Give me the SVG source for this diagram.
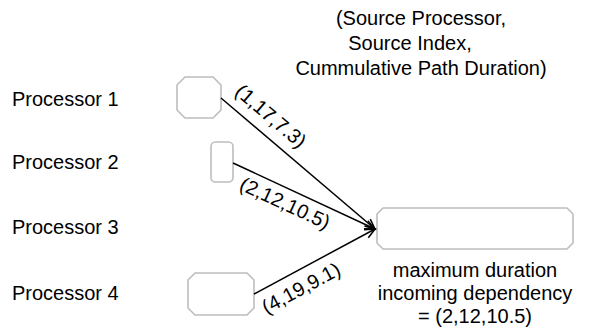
<svg xmlns="http://www.w3.org/2000/svg" width="589" height="331" viewBox="0 0 589 331">
<style>
text{font-family:"Liberation Sans",Arial,sans-serif;font-size:20px;fill:#000}
.node{fill:#fff;stroke:#bdbdbd;stroke-width:1.6}
.edge{fill:none;stroke:#000;stroke-width:1.5}
.mid{text-anchor:middle}
</style>
<defs>
<marker id="arr" markerUnits="userSpaceOnUse" markerWidth="14" markerHeight="12" refX="11" refY="5" orient="auto">
<path d="M1,0.5 L11,5 L1,9.5" fill="none" stroke="#000" stroke-width="1.5"/>
</marker>
</defs>
<g id="labels">
<text x="12" y="106">Processor 1</text>
<text x="12" y="169">Processor 2</text>
<text x="12" y="234">Processor 3</text>
<text x="12" y="300">Processor 4</text>
</g>
<g id="legend">
<text class="mid" x="421" y="25">(Source Processor,</text>
<text class="mid" x="410" y="50">Source Index,</text>
<text class="mid" x="421" y="75">Cummulative Path Duration)</text>
</g>
<g id="n1"><polygon class="node" points="185,77 213,77 221,85 221,110 213,118 185,118 177,110 177,85"/></g>
<g id="n2"><rect class="node" x="211" y="142" width="22" height="40" rx="4.5"/></g>
<g id="n4"><polygon class="node" points="195,273 247,273 254,280 254,308 247,315 195,315 188,308 188,280"/></g>
<g id="target">
<polygon class="node" points="383,208 567,208 573,214 573,243 567,249 383,249 377,243 377,214"/>
<text class="mid" x="475" y="277">maximum duration</text>
<text class="mid" x="475" y="300">incoming dependency</text>
<text class="mid" x="475" y="323">= (2,12,10.5)</text>
</g>
<g id="connectors">
<line class="edge" x1="221" y1="98" x2="375" y2="229" marker-end="url(#arr)"/>
<line class="edge" x1="233" y1="163" x2="375" y2="229" marker-end="url(#arr)"/>
<line class="edge" x1="254" y1="294" x2="375" y2="229" marker-end="url(#arr)"/>
<text class="mid" transform="translate(271,116) rotate(40.4)" y="7">(1,17,7.3)</text>
<text class="mid" transform="translate(285,203) rotate(24.9)" y="7">(2,12,10.5)</text>
<text class="mid" transform="translate(301,288) rotate(-28.2)" y="7">(4,19,9.1)</text>
</g>
</svg>
